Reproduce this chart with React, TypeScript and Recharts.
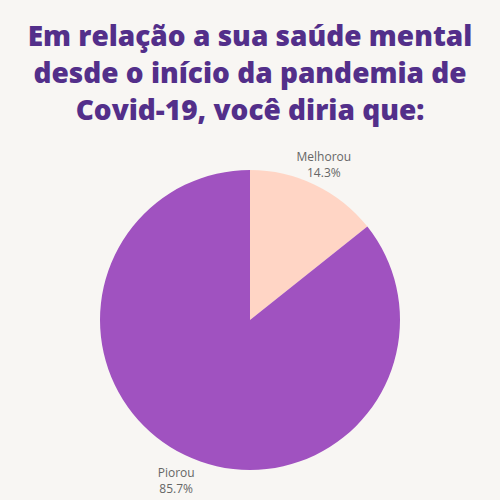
import React from 'react';
import { PieChart, Pie, Cell } from 'recharts';

const categories = ['Melhorou', 'Piorou'];
const values = [14.3, 85.7];
const colors = ['#FFD5C5', '#A052C0'];

const data = categories.map((name, i) => ({ name, value: values[i] }));

const RADIAN = Math.PI / 180;

// two-line outside label: name over percent
const renderLabel = (props: any) => {
  const { cx, cy, midAngle, outerRadius, name, value } = props;
  const r = outerRadius + 20;
  const x = cx + r * Math.cos(-midAngle * RADIAN);
  const y = cy + r * Math.sin(-midAngle * RADIAN);
  const top = y < cy;
  const y1 = top ? y - 6 : y + 4;
  const y2 = y1 + 16;
  return (
    <text textAnchor="middle" fill="#666" fontSize={12} fontFamily="'Open Sans', sans-serif">
      <tspan x={x} y={y1}>{name}</tspan>
      <tspan x={x} y={y2}>{`${value.toFixed(1)}%`}</tspan>
    </text>
  );
};

export default function App() {
  return (
    <div style={{ position: 'fixed', top: 0, left: 0, width: 500, height: 500, background: '#F8F6F3' }}>
      <PieChart
        width={500}
        height={500}
        margin={{ top: 0, right: 0, bottom: 0, left: 0 }}
        style={{ position: 'absolute', top: 0, left: 0 }}
      >
        <Pie
          data={data}
          dataKey="value"
          nameKey="name"
          cx={250}
          cy={320}
          outerRadius={150}
          startAngle={90}
          endAngle={-270}
          stroke="none"
          label={renderLabel}
          labelLine={false}
          isAnimationActive={false}
        >
          {data.map((d, i) => (
            <Cell key={d.name} fill={colors[i]} />
          ))}
        </Pie>
      </PieChart>
      <div
        style={{
          position: 'absolute',
          top: 17,
          left: 0,
          width: 500,
          textAlign: 'center',
          fontFamily: "'Open Sans', sans-serif",
          fontWeight: 800,
          fontSize: 28,
          lineHeight: '37px',
          color: '#532F8A',
        }}
      >
        Em relação a sua saúde mental
        <br />
        desde o início da pandemia de
        <br />
        Covid-19, você diria que:
      </div>
    </div>
  );
}
